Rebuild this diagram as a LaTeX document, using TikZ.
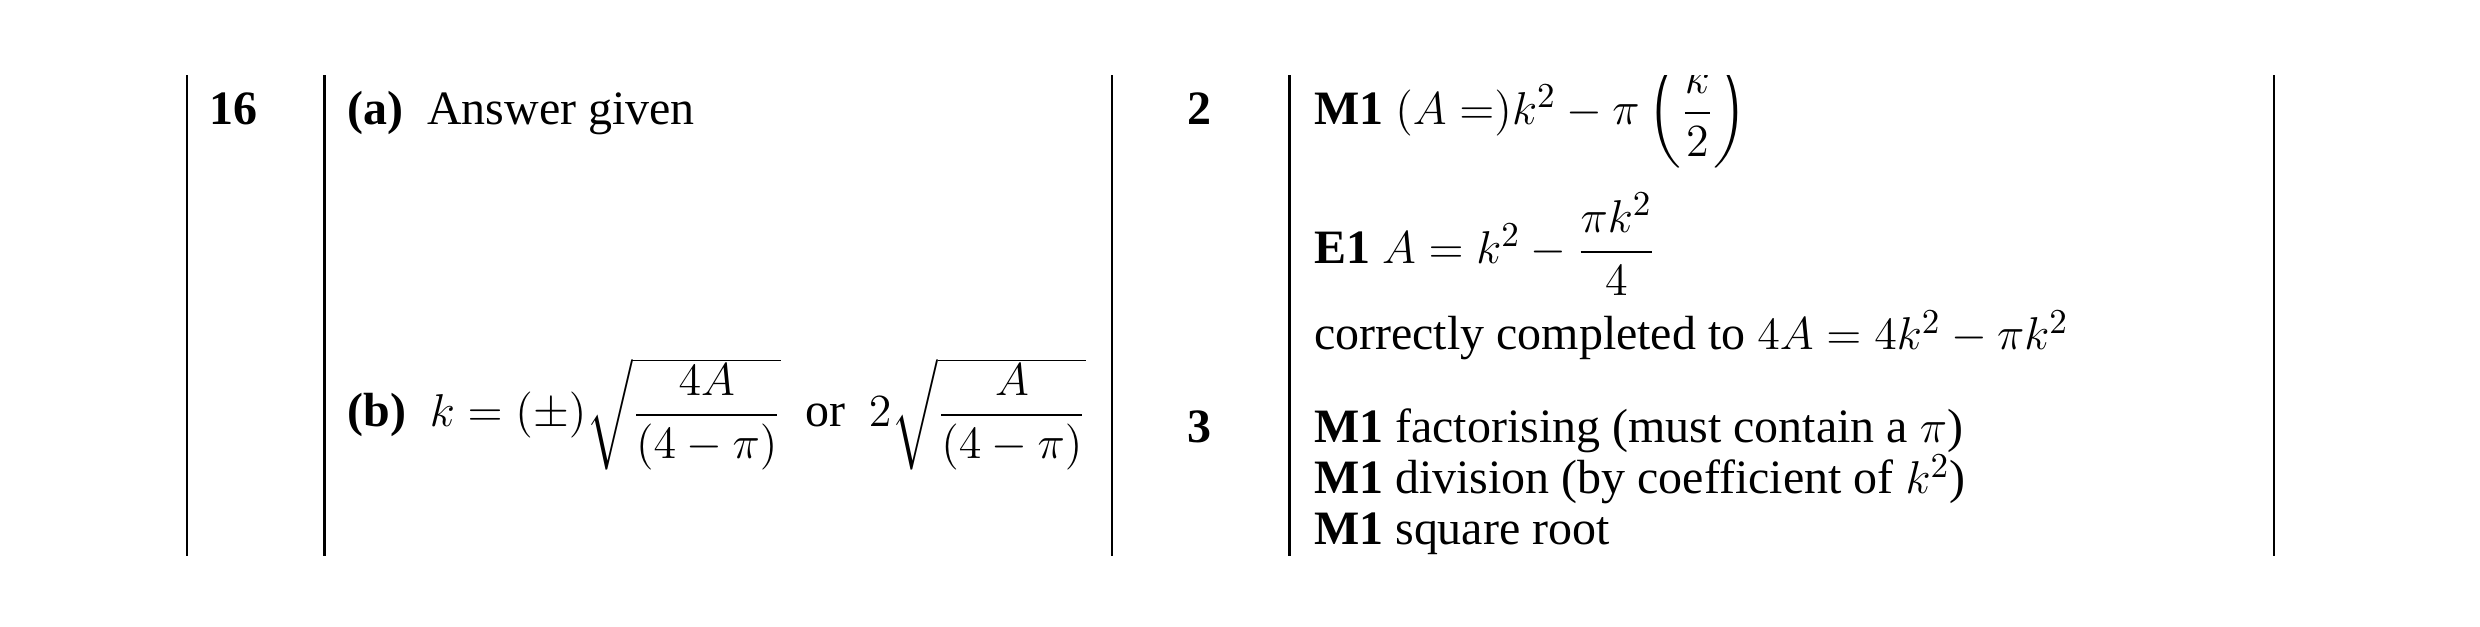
\documentclass[tikz,border=0pt]{standalone}
\usepackage{fontspec}
\setmainfont{Liberation Serif}
\usepackage{amsmath}
\begin{document}
\begin{tikzpicture}[x=0.5pt,y=0.5pt,yscale=-1,xscale=1,
  txt/.style={anchor=base west,inner sep=0pt,font=\fontsize{15}{18}\selectfont}]
\useasboundingbox (0,0) rectangle (1552,392);
%uncomment if require: set diagram height of 392

% Table rules
\foreach \xr in {117,203,696,807,1423}
  \draw [line width=0.8] (\xr,47) -- (\xr,348) ;

% Question number and parts
\node [txt] (qnum) at (131,78) {\textbf{16}};
\node [txt] (parta) at (217,78) {\textbf{(a)}\ \ Answer given};
\node [txt] (partb) at (217,267) {\textbf{(b)}\ \ $k=(\pm)\sqrt{\dfrac{4A}{(4-\pi)}}$\ \ or\ \ $2\sqrt{\dfrac{A}{(4-\pi)}}$};

% Marks
\node [txt] (marka) at (743,78) {\textbf{2}};
\node [txt] (markb) at (743,277) {\textbf{3}};

% Guidance
\begin{scope}
\clip (807,47) rectangle (1423,348);
\node [txt] (ga1) at (822,78) {\textbf{M1} $(A=)k^2-\pi\left(\dfrac{k}{2}\right)$};
\end{scope}
\node [txt] (ga2) at (822,165) {\textbf{E1} $A=k^2-\dfrac{\pi k^2}{4}$};
\node [txt] (ga3) at (822,219) {correctly completed to $4A=4k^2-\pi k^2$};
\node [txt] (gb1) at (822,277) {\textbf{M1} factorising (must contain a $\pi$)};
\node [txt] (gb2) at (822,309) {\textbf{M1} division (by coefficient of $k^2$)};
\node [txt] (gb3) at (822,341) {\textbf{M1} square root};

\end{tikzpicture}
\end{document}
